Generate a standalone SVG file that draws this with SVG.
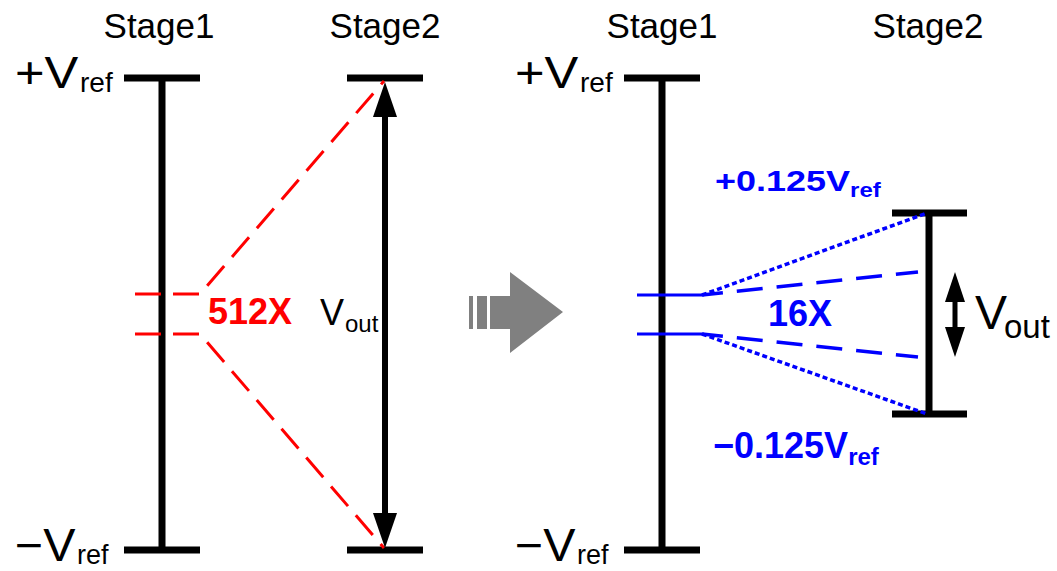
<svg xmlns="http://www.w3.org/2000/svg" width="1057" height="571" viewBox="0 0 1057 571">
  <style>
    .bar { stroke: #000; stroke-width: 7; fill: none; }
    .lbl { font-family: "Liberation Sans", Arial, sans-serif; fill: #000; }
    .bold { font-weight: bold; }
    .red { fill: #ff0000; }
    .blue { fill: #0000ff; }
    .redDash { stroke: #ff0000; stroke-width: 3; fill: none; stroke-dasharray: 26 12; }
    .blueSolid { stroke: #0000ff; stroke-width: 3; fill: none; }
    .blueDot { stroke: #0000ff; stroke-width: 3.5; fill: none; stroke-dasharray: 5 3; }
    .blueDash { stroke: #0000ff; stroke-width: 3.5; fill: none; stroke-dasharray: 26 14; stroke-dashoffset: 5; }
  </style>
  <rect width="1057" height="571" fill="#fff"/>

  <!-- Left: stage 1 range -->
  <g id="left-stage1">
    <text class="lbl" x="159" y="38" font-size="35" text-anchor="middle">Stage1</text>
    <path class="bar" d="M124,78 H200 M162,78 V550 M124,550 H200"/>
    <text class="lbl" transform="translate(15,88) scale(1.15,1)" font-size="44">+V</text>
    <text class="lbl" x="80" y="92" font-size="28">ref</text>
    <text class="lbl" transform="translate(15,561) scale(1.05,1)" font-size="46">−V</text>
    <text class="lbl" x="77" y="564" font-size="27">ref</text>
  </g>

  <!-- Left: stage 2 range -->
  <g id="left-stage2">
    <text class="lbl" x="385" y="38" font-size="35" text-anchor="middle">Stage2</text>
    <path class="bar" d="M347,78 H423 M347,550 H423"/>
    <text class="lbl" x="320" y="325" font-size="36">V</text>
    <text class="lbl" x="345" y="332" font-size="24">out</text>
  </g>

  <g id="left-gain">
    <text class="lbl bold red" x="208" y="324" font-size="36">512X</text>
  </g>

  <!-- Transition arrow -->
  <g id="transition-arrow" fill="#808080">
    <rect x="469" y="296" width="4" height="33"/>
    <rect x="477" y="296" width="10" height="33"/>
    <path d="M490,296 H510 V272 L563,312 L510,353 V329 H490 Z"/>
  </g>

  <!-- Right: stage 1 range -->
  <g id="right-stage1">
    <text class="lbl" x="662" y="38" font-size="35" text-anchor="middle">Stage1</text>
    <path class="bar" d="M624,78 H700 M662,78 V550 M624,550 H700"/>
    <text class="lbl" transform="translate(515,88) scale(1.15,1)" font-size="44">+V</text>
    <text class="lbl" x="580" y="92" font-size="28">ref</text>
    <text class="lbl" transform="translate(515,561) scale(1.05,1)" font-size="46">−V</text>
    <text class="lbl" x="577" y="564" font-size="27">ref</text>
  </g>

  <!-- Right: stage 2 range -->
  <g id="right-stage2">
    <text class="lbl" x="928" y="38" font-size="35" text-anchor="middle">Stage2</text>
    <path class="bar" d="M892,213 H967 M929,213 V414 M892,414 H967"/>
    <text class="lbl" x="975" y="329" font-size="48">V</text>
    <text class="lbl" x="1004" y="338" font-size="33">out</text>
  </g>

  <g id="right-labels">
    <g transform="translate(715,191) scale(1,0.81)">
      <text class="lbl bold blue" x="0" y="0" font-size="36">+0.125V<tspan font-size="24" dy="7">ref</tspan></text>
    </g>
    <text class="lbl bold blue" x="713" y="458" font-size="36">−0.125V<tspan font-size="24" dy="7">ref</tspan></text>
    <text class="lbl bold blue" x="768" y="326" font-size="36">16X</text>
  </g>

  <!-- Connectors -->
  <g id="connectors">
    <!-- 512X residue mapping -->
    <path class="redDash" d="M135,294 H200 L384,81"/>
    <path class="redDash" d="M135,334 H200 L384,548"/>
    <!-- full-scale Vout arrow -->
    <rect x="382" y="115" width="6" height="402" fill="#000"/>
    <path d="M385,82 L397,117 H373 Z" fill="#000"/>
    <path d="M385,548 L397,513 H373 Z" fill="#000"/>

    <!-- 16X residue mapping -->
    <path class="blueSolid" d="M637,295 H702 M637,334 H702"/>
    <path class="blueDot" d="M702,295 L927,213"/>
    <path class="blueDot" d="M702,334 L927,414"/>
    <path class="blueDash" d="M702,295 L918,272"/>
    <path class="blueDash" d="M702,334 L918,357"/>
    <!-- reduced Vout arrow -->
    <rect x="952.5" y="300" width="5" height="29" fill="#000"/>
    <path d="M955,272 L965,302 H945 Z" fill="#000"/>
    <path d="M955,357 L965,327 H945 Z" fill="#000"/>
  </g>
</svg>
